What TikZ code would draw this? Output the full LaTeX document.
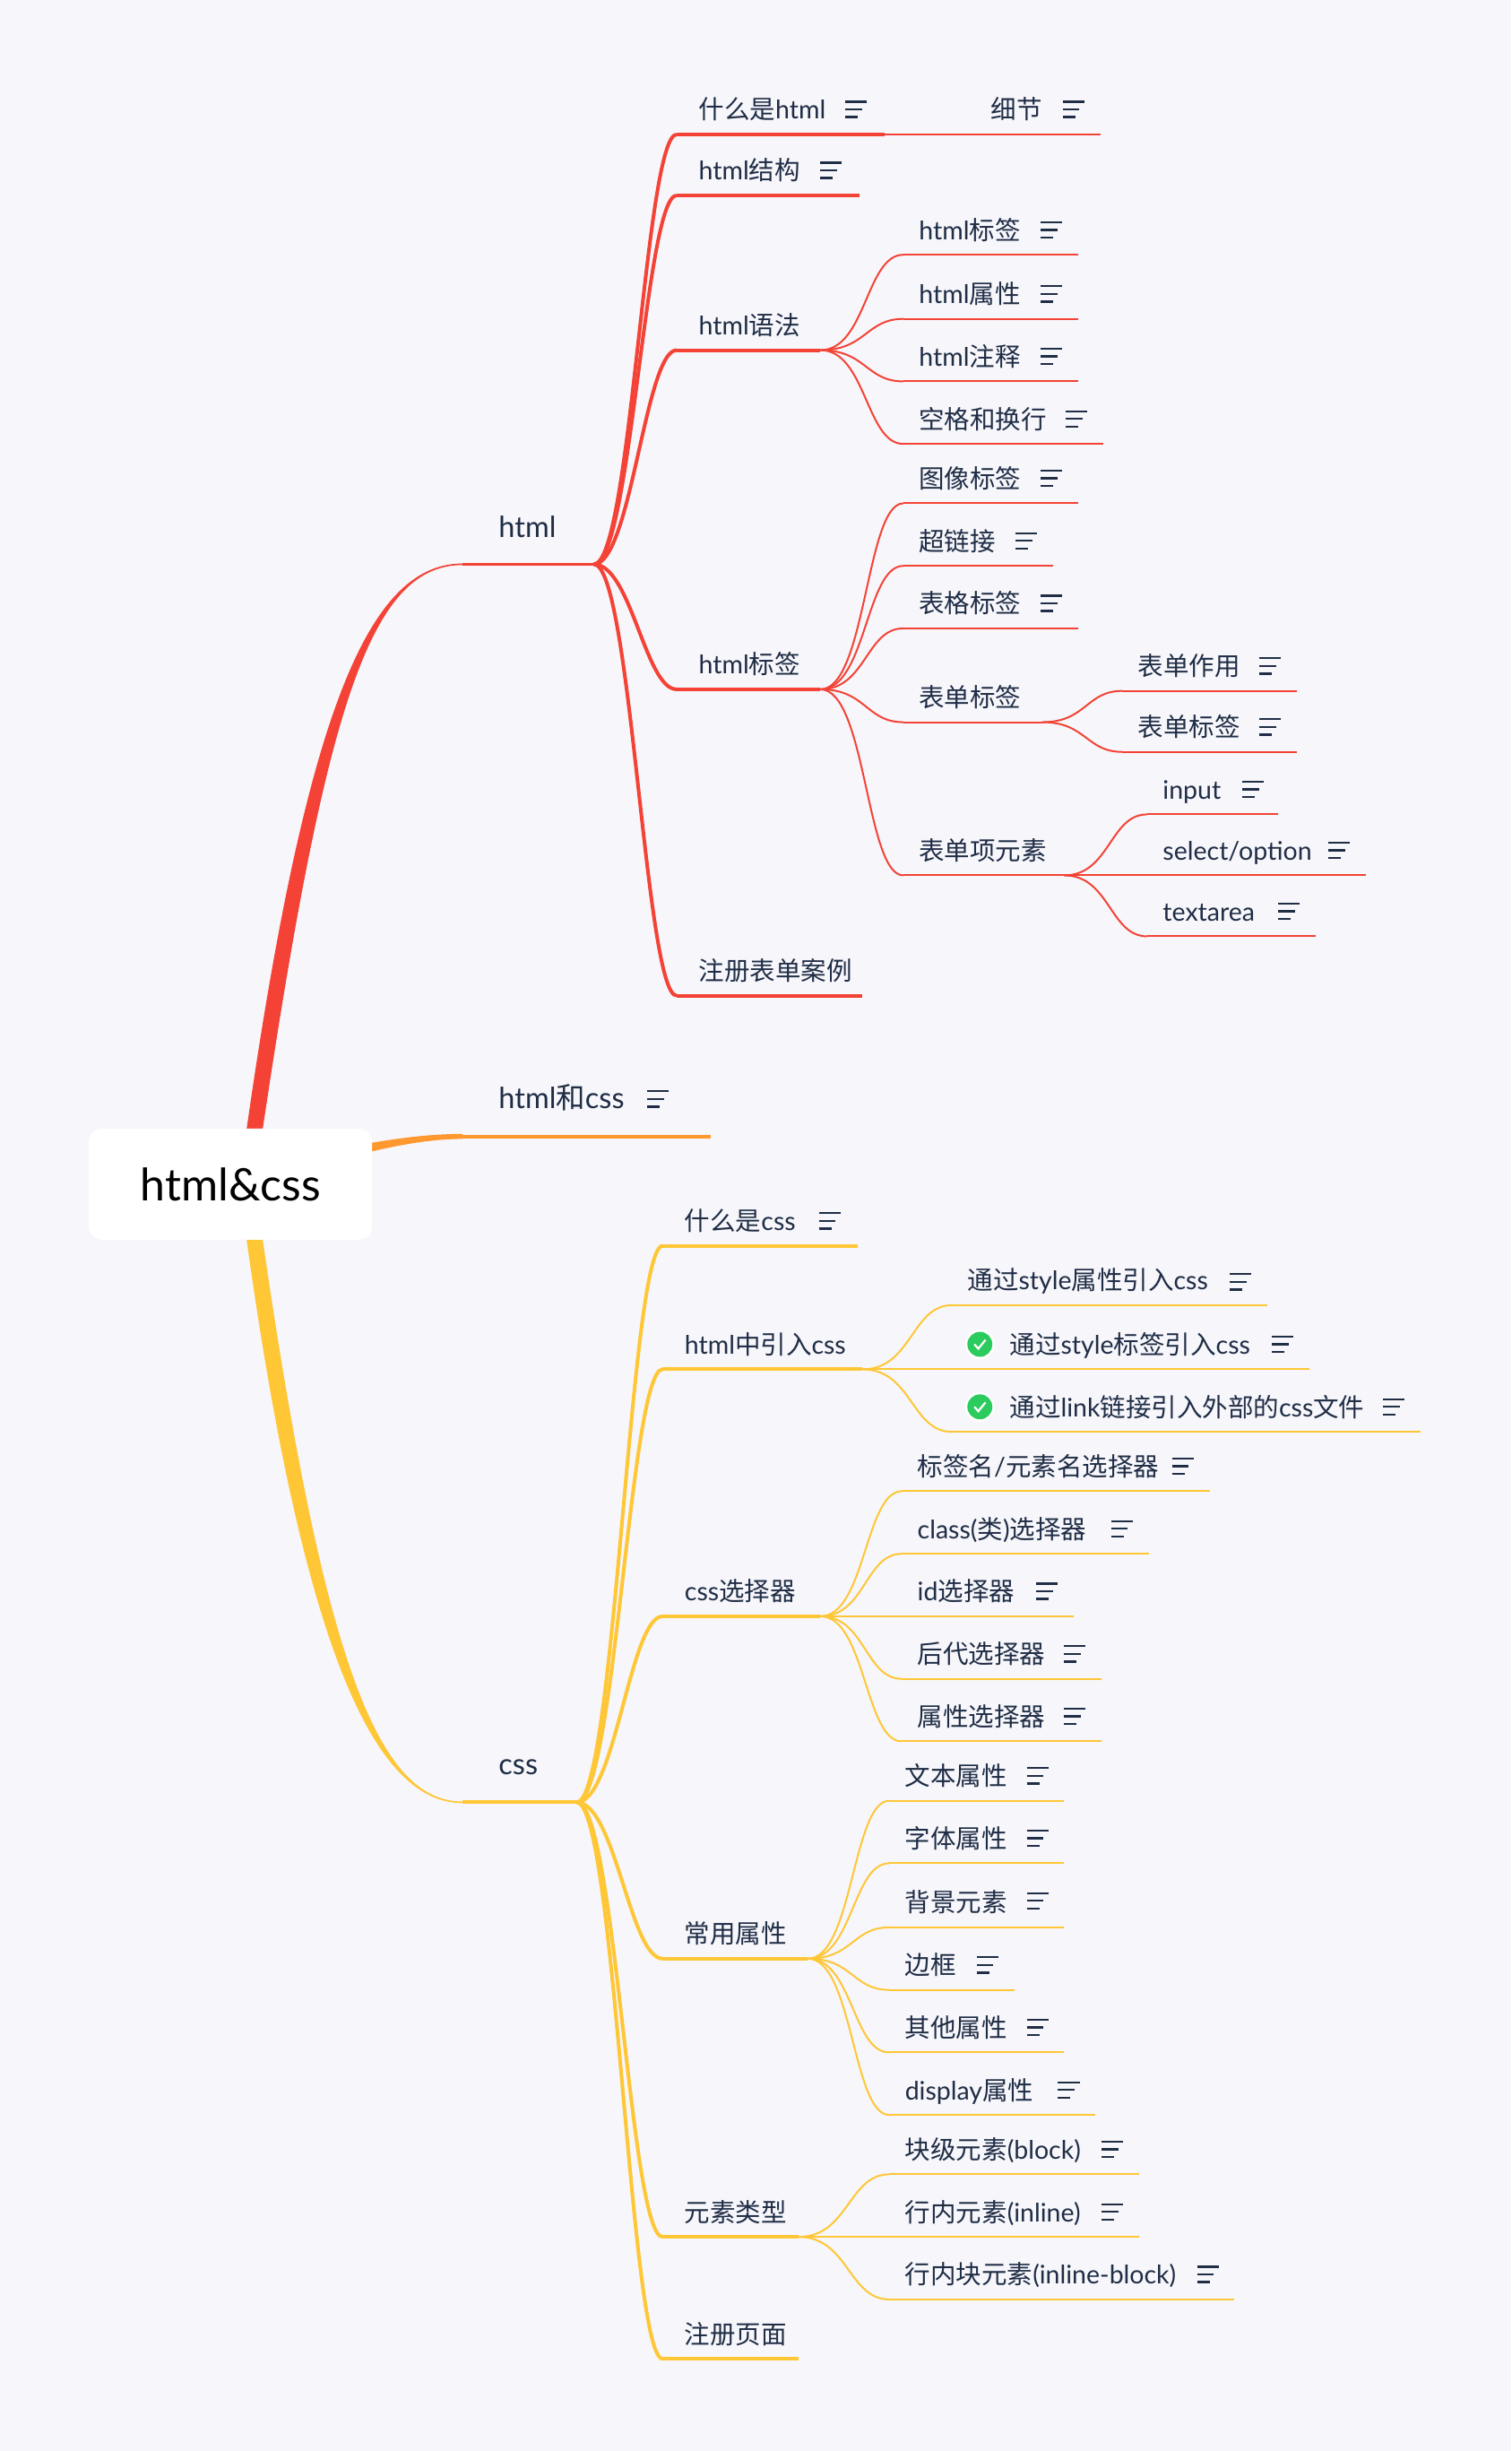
\documentclass[tikz,border=0pt]{standalone}
\usepackage{fontspec}
\setmainfont{Lato}
\newfontfamily\zh{Noto Sans CJK SC}
\usetikzlibrary{calc}
\definecolor{paper}{HTML}{F6F6FB}
\definecolor{mmred}{HTML}{F44336}
\definecolor{mmorange}{HTML}{FF982E}
\definecolor{mmyellow}{HTML}{FFC736}
\definecolor{mmgreen}{HTML}{2CCB5E}
\definecolor{ink}{HTML}{1F2D45}
\tikzset{
  lbl/.style={inner sep=0pt,anchor=base west,text=ink,font=\fontsize{28.5}{32}\selectfont},
  lblbig/.style={inner sep=0pt,anchor=base west,text=ink,font=\fontsize{32.5}{36}\selectfont},
  rootbox/.style={fill=white,rounded corners=14pt,minimum width=316pt,minimum height=124pt,inner sep=0pt,font=\fontsize{50}{56}\selectfont},
  red1/.style={draw=mmred,line width=3.8pt},
  red2/.style={draw=mmred,line width=4pt},
  red3/.style={draw=mmred,line width=2pt},
  yel1/.style={draw=mmyellow,line width=4pt},
  yel2/.style={draw=mmyellow,line width=4pt},
  yel3/.style={draw=mmyellow,line width=2pt},
  orange1/.style={draw=mmorange,line width=4.2pt},
  noteicon/.pic={
    \draw[ink,line width=2.4pt] (0,-4.9) -- (13.8,-4.9);
    \draw[ink,line width=2.4pt] (0,0) -- (10.7,0);
    \draw[ink,line width=2.4pt] (0,4.9) -- (8,4.9);
  },
  okmark/.pic={
    \fill[white] (0,0) circle (9.5);
    \fill[mmgreen] (0,0) circle (8);
    \draw[white,line width=2.2pt] (-3.5,0) -- (-1,2.8) -- (3.6,-2.8);
  },
}
% name, style, line start, line end, line y, text x, text
\newcommand{\topic}[7]{
  \coordinate (#1-a) at (#3,#5);
  \coordinate (#1-b) at (#4,#5);
  \draw[#2] (#1-a) -- (#1-b);
  \node[lbl] (#1) at (#6,#5-9.8) {#7};
}
\newcommand{\link}[3]{
  \draw[#1] let \p1=(#2),\p2=(#3),\n1={\x1+.55*(\x2-\x1)} in
    (#2) .. controls (\n1,\y1) and (\n1,\y2) .. (#3);
}
% long branch, tight corner at the far end
\newcommand{\longlink}[3]{
  \draw[#1] let \p1=(#2),\p2=(#3),\n1={\x1+.45*(\x2-\x1)},\n2={\x1+.62*(\x2-\x1)} in
    (#2) .. controls (\n1,\y1) and (\n2,\y2) .. (#3);
}
% colour, start, control, control, end, start half width x, y, end half width
\newcommand{\taper}[8]{
  \fill[#1] ($(#2)+(-#6,-#7)$) .. controls ($(#3)+(-1.3*#6,-1.3*#7)$) and ($(#4)+(0,-#8)$) .. ($(#5)+(0,-#8)$)
    -- ($(#5)+(0,#8)$) .. controls ($(#4)+(0,#8)$) and ($(#3)+(1.3*#6,1.3*#7)$) .. ($(#2)+(#6,#7)$) -- cycle;
}
\begin{document}
\begin{tikzpicture}[x=1.7435pt,y=-1.7435pt]
\useasboundingbox[fill=paper] (0,0) rectangle (967,1568);

% first level
\coordinate (html-a) at (296,361);
\coordinate (html-b) at (380,361);
\draw[red1] (html-a) -- (html-b);
\node[lblbig] (html) at (319,344) {html};
\coordinate (both-a) at (296,727);
\coordinate (both-b) at (455,727);
\draw[orange1] (both-a) -- (both-b);
\node[lblbig] (both) at (319,709) {html{\zh 和}css};
\coordinate (css-a) at (296,1153);
\coordinate (css-b) at (369,1153);
\draw[yel1] (css-a) -- (css-b);
\node[lblbig] (css) at (319,1135) {css};
\pic at (414,703) {noteicon};

% html
\topic{whatis}{red2}{433}{566}{86}{447}{{\zh 什么是}html}
\topic{detail}{red3}{566}{704}{86}{634}{{\zh 细节}}
\topic{struct}{red2}{433}{550}{125}{447}{html{\zh 结构}}
\topic{syntax}{red2}{433}{525}{224}{447}{html{\zh 语法}}
\topic{tags}{red2}{433}{525}{441}{447}{html{\zh 标签}}
\topic{regform}{red2}{433}{552}{637}{447}{{\zh 注册表单案例}}
\longlink{red2}{html-b}{whatis-a}
\longlink{red2}{html-b}{struct-a}
\longlink{red2}{html-b}{syntax-a}
\longlink{red2}{html-b}{tags-a}
\longlink{red2}{html-b}{regform-a}
\draw[red3] (whatis-b) -- (detail-a);
\pic at (541,70) {noteicon};
\pic at (680,70) {noteicon};
\pic at (525,109) {noteicon};

\topic{syntaga}{red3}{578}{690}{163}{588}{html{\zh 标签}}
\topic{synattr}{red3}{578}{690}{204}{588}{html{\zh 属性}}
\topic{syncmt}{red3}{578}{690}{244}{588}{html{\zh 注释}}
\topic{synspace}{red3}{578}{706}{284}{588}{{\zh 空格和换行}}
\link{red3}{syntax-b}{syntaga-a}
\link{red3}{syntax-b}{synattr-a}
\link{red3}{syntax-b}{syncmt-a}
\link{red3}{syntax-b}{synspace-a}
\pic at (666,147) {noteicon};
\pic at (666,188) {noteicon};
\pic at (666,228) {noteicon};
\pic at (682,268) {noteicon};

\topic{tagimg}{red3}{578}{690}{322}{588}{{\zh 图像标签}}
\topic{taglink}{red3}{578}{674}{362}{588}{{\zh 超链接}}
\topic{tagtable}{red3}{578}{690}{402}{588}{{\zh 表格标签}}
\topic{tagform}{red3}{578}{667}{462}{588}{{\zh 表单标签}}
\topic{tagitem}{red3}{578}{681}{560}{588}{{\zh 表单项元素}}
\link{red3}{tags-b}{tagimg-a}
\link{red3}{tags-b}{taglink-a}
\link{red3}{tags-b}{tagtable-a}
\link{red3}{tags-b}{tagform-a}
\link{red3}{tags-b}{tagitem-a}
\pic at (666,306) {noteicon};
\pic at (650,346) {noteicon};
\pic at (666,386) {noteicon};

\topic{formuse}{red3}{718}{830}{442}{728}{{\zh 表单作用}}
\topic{formtag}{red3}{718}{830}{481}{728}{{\zh 表单标签}}
\link{red3}{tagform-b}{formuse-a}
\link{red3}{tagform-b}{formtag-a}
\pic at (806,426) {noteicon};
\pic at (806,465) {noteicon};

\topic{input}{red3}{734}{818}{521}{744}{input}
\topic{select}{red3}{734}{874}{560}{744}{select/option}
\topic{textarea}{red3}{734}{842}{599}{744}{textarea}
\link{red3}{tagitem-b}{input-a}
\link{red3}{tagitem-b}{select-a}
\link{red3}{tagitem-b}{textarea-a}
\pic at (795,505) {noteicon};
\pic at (850,544) {noteicon};
\pic at (818,583) {noteicon};

% css
\topic{whatcss}{yel2}{424}{549}{797}{438}{{\zh 什么是}css}
\topic{import}{yel2}{424}{552}{876}{438}{html{\zh 中引入}css}
\topic{selector}{yel2}{424}{525}{1034}{438}{css{\zh 选择器}}
\topic{common}{yel2}{424}{517}{1253}{438}{{\zh 常用属性}}
\topic{kind}{yel2}{424}{511}{1431}{438}{{\zh 元素类型}}
\topic{regpage}{yel2}{424}{511}{1509}{438}{{\zh 注册页面}}
\longlink{yel2}{css-b}{whatcss-a}
\longlink{yel2}{css-b}{import-a}
\longlink{yel2}{css-b}{selector-a}
\longlink{yel2}{css-b}{common-a}
\longlink{yel2}{css-b}{kind-a}
\longlink{yel2}{css-b}{regpage-a}
\pic at (524,781) {noteicon};

\topic{impattr}{yel3}{609}{811}{835}{619}{{\zh 通过}style{\zh 属性引入}css}
\topic{imptag}{yel3}{609}{838}{876}{646}{{\zh 通过}style{\zh 标签引入}css}
\topic{implink}{yel3}{609}{909}{916}{646}{{\zh 通过}link{\zh 链接引入外部的}css{\zh 文件}}
\link{yel3}{import-b}{impattr-a}
\link{yel3}{import-b}{imptag-a}
\link{yel3}{import-b}{implink-a}
\pic at (627,860) {okmark};
\pic at (627,900) {okmark};
\pic at (787,820) {noteicon};
\pic at (814,860) {noteicon};
\pic at (885,900) {noteicon};

\topic{selname}{yel3}{577}{774}{954}{587}{{\zh 标签名}/{\zh 元素名选择器}}
\topic{selclass}{yel3}{577}{735}{994}{587}{class({\zh 类}){\zh 选择器}}
\topic{selid}{yel3}{577}{687}{1034}{587}{id{\zh 选择器}}
\topic{seldesc}{yel3}{577}{705}{1074}{587}{{\zh 后代选择器}}
\topic{selattr}{yel3}{577}{705}{1114}{587}{{\zh 属性选择器}}
\link{yel3}{selector-b}{selname-a}
\link{yel3}{selector-b}{selclass-a}
\link{yel3}{selector-b}{selid-a}
\link{yel3}{selector-b}{seldesc-a}
\link{yel3}{selector-b}{selattr-a}
\pic at (750,938) {noteicon};
\pic at (711,978) {noteicon};
\pic at (663,1018) {noteicon};
\pic at (681,1058) {noteicon};
\pic at (681,1098) {noteicon};

\topic{proptext}{yel3}{569}{681}{1152}{579}{{\zh 文本属性}}
\topic{propfont}{yel3}{569}{681}{1192}{579}{{\zh 字体属性}}
\topic{propbg}{yel3}{569}{681}{1233}{579}{{\zh 背景元素}}
\topic{propbord}{yel3}{569}{649}{1273}{579}{{\zh 边框}}
\topic{propother}{yel3}{569}{681}{1313}{579}{{\zh 其他属性}}
\topic{propdisp}{yel3}{569}{701}{1353}{579}{display{\zh 属性}}
\link{yel3}{common-b}{proptext-a}
\link{yel3}{common-b}{propfont-a}
\link{yel3}{common-b}{propbg-a}
\link{yel3}{common-b}{propbord-a}
\link{yel3}{common-b}{propother-a}
\link{yel3}{common-b}{propdisp-a}
\pic at (657,1136) {noteicon};
\pic at (657,1176) {noteicon};
\pic at (657,1216) {noteicon};
\pic at (625,1257) {noteicon};
\pic at (657,1297) {noteicon};
\pic at (677,1337) {noteicon};

\topic{block}{yel3}{569}{729}{1391}{579}{{\zh 块级元素}(block)}
\topic{inline}{yel3}{569}{729}{1431}{579}{{\zh 行内元素}(inline)}
\topic{inblock}{yel3}{569}{790}{1471}{579}{{\zh 行内块元素}(inline-block)}
\link{yel3}{kind-b}{block-a}
\link{yel3}{kind-b}{inline-a}
\link{yel3}{kind-b}{inblock-a}
\pic at (705,1375) {noteicon};
\pic at (705,1415) {noteicon};
\pic at (766,1455) {noteicon};

% root and its thick branches
\coordinate (r0) at (158,757);
\coordinate (rc1) at (200,457);
\coordinate (rc2) at (235,361);
\coordinate (yc1) at (198,1057);
\coordinate (yc2) at (240,1153);
\coordinate (oc1) at (190,745);
\coordinate (oc2) at (250,727);
\taper{mmred}{r0}{rc1}{rc2}{html-a}{5}{0}{.5}
\taper{mmyellow}{r0}{yc1}{yc2}{css-a}{5}{0}{-.5}
\taper{mmorange}{r0}{oc1}{oc2}{both-a}{0}{4}{1.6}
\node[rootbox] (root) at (147.5,757.5) {html\&css};
\end{tikzpicture}
\end{document}
